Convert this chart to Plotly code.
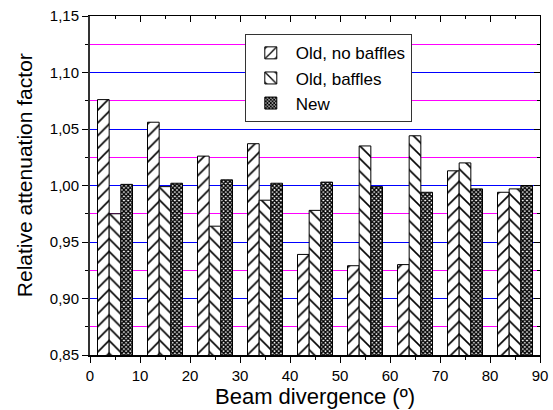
import plotly.graph_objects as go

divergence = [5, 15, 25, 35, 45, 55, 65, 75, 85]
old_no_baffles = [1.076, 1.056, 1.026, 1.037, 0.939, 0.929, 0.930, 1.013, 0.994]
old_baffles = [0.975, 0.999, 0.964, 0.987, 0.978, 1.035, 1.044, 1.020, 0.997]
new = [1.001, 1.002, 1.005, 1.002, 1.003, 0.999, 0.994, 0.997, 1.000]

x_ticks = [0, 10, 20, 30, 40, 50, 60, 70, 80, 90]
y_ticks = [0.85, 0.90, 0.95, 1.00, 1.05, 1.10, 1.15]

FONT = "Liberation Sans, Arial, sans-serif"

fig = go.Figure()
fig.add_trace(go.Bar(
    x=divergence, y=old_no_baffles, name="Old, no baffles",
    marker=dict(color="white", line=dict(color="black", width=1),
                pattern=dict(shape="/", fgcolor="black", bgcolor="white", size=9, solidity=0.18)),
))
fig.add_trace(go.Bar(
    x=divergence, y=old_baffles, name="Old, baffles",
    marker=dict(color="white", line=dict(color="black", width=1),
                pattern=dict(shape="\\", fgcolor="black", bgcolor="white", size=9, solidity=0.18)),
))
fig.add_trace(go.Bar(
    x=divergence, y=new, name="New",
    marker=dict(color="white", line=dict(color="black", width=1),
                pattern=dict(shape="x", fgcolor="black", bgcolor="white", size=3, solidity=0.7)),
))

fig.update_layout(
    template="none",
    width=553, height=410,
    margin=dict(l=90, r=13, t=16, b=55),
    paper_bgcolor="white", plot_bgcolor="white",
    separators=",.",
    barmode="group", bargap=0.3, bargroupgap=0,
    font=dict(family=FONT, color="black", size=15),
    showlegend=True,
    legend=dict(x=0.344, y=0.946, xanchor="left", yanchor="top",
                bgcolor="white", bordercolor="#333", borderwidth=1,
                font=dict(size=17), tracegroupgap=0, itemwidth=40),
    xaxis=dict(
        range=[0, 90], tickvals=x_ticks, ticks="outside", ticklen=6, tickwidth=1,
        tickcolor="black", showline=True, linecolor="black", linewidth=2,
        showgrid=False, zeroline=False,
        minor=dict(dtick=5, tick0=0, ticks="outside", ticklen=3, tickcolor="black", showgrid=False),
        title=dict(text="Beam divergence (º)", font=dict(size=22), standoff=2),
        tickfont=dict(size=15),
    ),
    yaxis=dict(
        range=[0.85, 1.15], tickvals=y_ticks, tickformat=".2f",
        ticks="outside", ticklen=6, tickwidth=1, tickcolor="black",
        showline=True, linecolor="#333", linewidth=2,
        showgrid=True, gridcolor="blue", gridwidth=1, zeroline=False,
        minor=dict(dtick=0.025, tick0=0.85, ticks="outside", ticklen=3, tickcolor="black",
                   showgrid=True, gridcolor="magenta", gridwidth=1),
        tickfont=dict(size=15),
    ),
    xaxis2=dict(
        range=[0, 90], overlaying="x", side="top", tickvals=x_ticks, ticks="inside",
        ticklen=6, tickcolor="black", showticklabels=False, showline=True,
        linecolor="black", linewidth=1, showgrid=False, zeroline=False,
        minor=dict(dtick=5, tick0=0, ticks="inside", ticklen=3, tickcolor="black", showgrid=False),
    ),
    yaxis2=dict(
        range=[0.85, 1.15], overlaying="y", side="right", tickvals=y_ticks, ticks="inside",
        ticklen=6, tickcolor="black", showticklabels=False, showline=True,
        linecolor="black", linewidth=1, showgrid=False, zeroline=False,
        minor=dict(dtick=0.025, tick0=0.85, ticks="inside", ticklen=3, tickcolor="black", showgrid=False),
    ),
    annotations=[dict(
        text="Relative attenuation factor", textangle=-90,
        xref="paper", yref="paper", x=-0.147, y=0.53, xanchor="center", yanchor="middle",
        showarrow=False, font=dict(size=21),
    )],
)
# invisible trace to activate the mirrored axes
fig.add_trace(go.Scatter(x=[0, 90], y=[0.85, 1.15], xaxis="x2", yaxis="y2",
                         mode="markers", marker=dict(opacity=0), showlegend=False,
                         hoverinfo="skip"))

fig.write_html("out.html")
